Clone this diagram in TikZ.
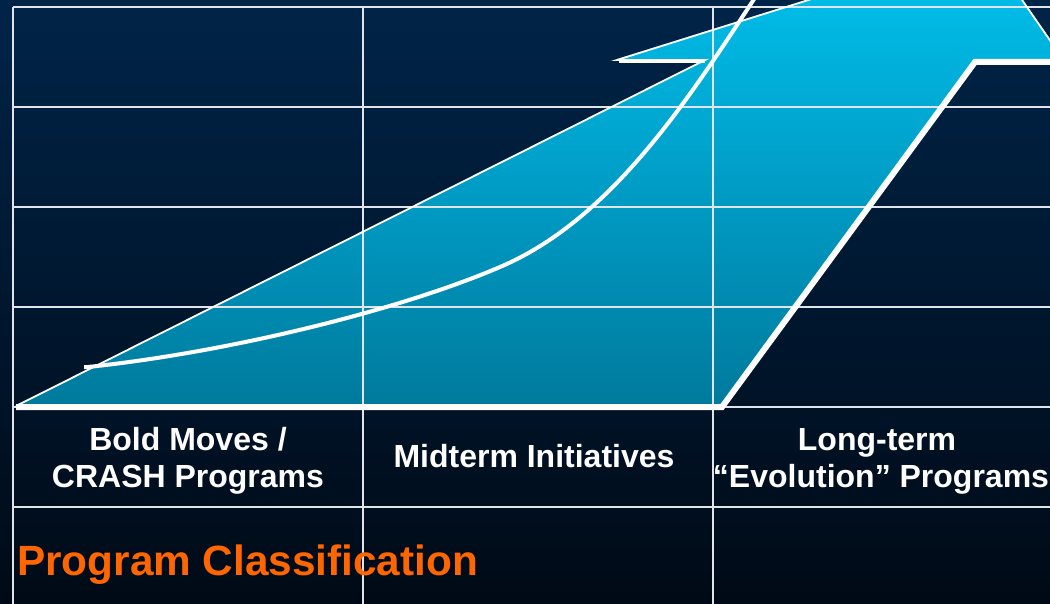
\documentclass[tikz,border=0pt]{standalone}
\usepackage{fontspec}
\setmainfont{Liberation Sans}
\definecolor{bgtop}{RGB}{0,36,72}
\definecolor{bgbot}{RGB}{0,10,22}
\definecolor{arrtop}{RGB}{0,206,255}
\definecolor{arrhi}{RGB}{0,196,240}
\definecolor{arrmid}{RGB}{0,148,188}
\definecolor{arrbot}{RGB}{0,86,112}
\definecolor{titleorange}{RGB}{255,102,0}
\definecolor{gridcol}{RGB}{225,228,235}
\pgfdeclareverticalshading{arrowshade}{100bp}{color(0bp)=(arrbot); color(43bp)=(arrmid); color(75bp)=(arrhi); color(100bp)=(arrtop)}
\tikzset{
  gridline/.style={draw=gridcol, line width=1.6pt},
  thinedge/.style={draw=white, line width=1.8pt, line join=miter},
  thickedge/.style={draw=white, line width=6pt, line join=miter},
  curveline/.style={draw=white, line width=4pt},
  lbl/.style={text=white, font=\bfseries\fontsize{32}{37}\selectfont, inner sep=0pt, anchor=base},
  titletext/.style={text=titleorange, font=\bfseries\fontsize{42.3}{48}\selectfont, inner sep=0pt, anchor=base west}
}
\begin{document}
\begin{tikzpicture}[x=1pt,y=-1pt]
\useasboundingbox (0,0) rectangle (1050,604);
\clip (0,0) rectangle (1050,604);
% background
\fill[top color=bgtop, bottom color=bgbot] (0,0) rectangle (1050,604);
% arrow fill
\shade[shading=arrowshade] (16,406) -- (722,406) -- (975,62) -- (1065,62) -- (984,-55) -- (617,59) -- (705,60) -- cycle;
% grid
\foreach \yy in {7,107,207,307,407,507} \draw[gridline] (13,\yy) -- (1050,\yy);
\foreach \xx in {13,363,713} \draw[gridline] (\xx,7) -- (\xx,604);
% arrow outlines
\draw[thinedge] (16,406) -- (705,60) -- (617,60) -- (984,-55) -- (1065,62);
\draw[line width=3.5pt, draw=white] (619,61) -- (705,61);
\draw[thickedge] (16,407) -- (722,407) -- (975,62) -- (1070,62);
% curve
\draw[curveline] (84,367) -- (88,367) .. controls (230,352) and (400,310) .. (500,267)
  .. controls (620,216) and (700,80) .. (770,-25);
% labels
\node[lbl] (c1a) at (188,450) {Bold Moves /};
\node[lbl] (c1b) at (188,487) {CRASH Programs};
\node[lbl] (c2) at (534,467) {Midterm Initiatives};
\node[lbl] (c3a) at (877,450) {Long-term};
\node[lbl] (c3b) at (881,487) {“Evolution” Programs};
\node[titletext] (title) at (17,575) {Program Classification};
\end{tikzpicture}
\end{document}
